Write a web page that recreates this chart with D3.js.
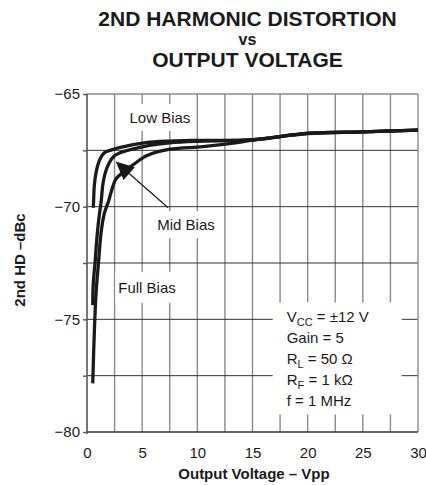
<!DOCTYPE html>
<html>
<head>
<meta charset="utf-8">
<script src="https://cdn.jsdelivr.net/npm/d3@7/dist/d3.min.js"></script>
<style>
  html, body { margin: 0; padding: 0; background: #fff; }
  svg { display: block; }
  text { font-family: "Liberation Sans", Arial, Helvetica, sans-serif; fill: #1a1a1a; }
</style>
</head>
<body>
<svg id="chart" width="426" height="485"></svg>
<script>
// Output voltage (Vpp) and 2nd harmonic distortion (dBc) for each bias setting
const lowBias = [
  [0.57, -70.05], [0.62, -69.5], [0.66, -69.08], [0.82, -68.49], [1.11, -67.97],
  [1.57, -67.61], [2.17, -67.49], [2.93, -67.38], [5.34, -67.16], [7.5, -67.09],
  [10, -67.06], [15, -67.03], [20, -66.74], [25, -66.68], [30, -66.6]
];
const midBias = [
  [0.52, -74.37], [0.57, -73.4], [0.75, -72.37], [0.88, -71.48], [1.06, -70.59],
  [1.3, -69.7], [1.42, -69.08], [1.66, -68.49], [2.02, -68.05], [2.47, -67.75],
  [3.23, -67.57], [5.34, -67.31], [7.5, -67.17], [10, -67.1], [15, -67.04],
  [20, -66.75], [25, -66.68], [30, -66.6]
];
const fullBias = [
  [0.52, -77.84], [0.66, -75.62], [0.82, -73.85], [1.06, -72.37], [1.27, -71.18],
  [1.57, -70.3], [1.99, -69.7], [2.17, -69.38], [2.63, -68.77], [3.23, -68.49],
  [4.44, -68.05], [5.34, -67.75], [7.5, -67.45], [10.5, -67.34], [13.6, -67.16],
  [15, -67.05], [20, -66.76], [25, -66.68], [30, -66.6]
];
const seriesLabels = ["Low Bias", "Mid Bias", "Full Bias"];

// Axis ticks and grid positions
const xTicks = [0, 5, 10, 15, 20, 25, 30];
const yTicks = [-80, -75, -70, -65];
const yMinorTicks = [-80, -77.5, -75, -72.5, -70, -67.5, -65];
const xGrid = [2.5, 5, 7.5, 10, 12.5, 15, 17.5, 20, 22.5, 25, 27.5];
const yGrid = [-77.5, -75, -72.5, -70, -67.5];

// Test conditions
const conditions = [
  ["V", "CC", " = \u00b112 V"],
  ["Gain = 5", "", ""],
  ["R", "L", " = 50 \u03a9"],
  ["R", "F", " = 1 k\u03a9"],
  ["f = 1 MHz", "", ""]
];

const svg = d3.select("#chart");
const plot = { left: 87, right: 418, top: 94, bottom: 432 };

const x = d3.scaleLinear().domain([0, 30]).range([plot.left, plot.right]);
const y = d3.scaleLinear().domain([-80, -65]).range([plot.bottom, plot.top]);

// Grid
const grid = svg.append("g");
grid.selectAll("line.v").data(xGrid).join("line")
  .attr("x1", d => x(d)).attr("x2", d => x(d))
  .attr("y1", plot.top).attr("y2", plot.bottom)
  .attr("stroke", "#8a8a8a").attr("stroke-width", 1.4);
grid.selectAll("line.h").data(yGrid).join("line")
  .attr("x1", plot.left).attr("x2", plot.right)
  .attr("y1", d => y(d)).attr("y2", d => y(d))
  .attr("stroke", "#333").attr("stroke-width", 1);

// Frame: top and right edges in grey
svg.append("line").attr("x1", plot.left).attr("x2", plot.right)
  .attr("y1", plot.top).attr("y2", plot.top)
  .attr("stroke", "#8a8a8a").attr("stroke-width", 1.4);
svg.append("line").attr("x1", plot.right).attr("x2", plot.right)
  .attr("y1", plot.top).attr("y2", plot.bottom)
  .attr("stroke", "#8a8a8a").attr("stroke-width", 1.4);

// Label boxes blank out the grid behind the text
const labelLayer = svg.append("g");
function boxedLabel(str, vx, vy, padX, padY) {
  const g = labelLayer.append("g");
  const rect = g.append("rect").attr("fill", "#fff");
  const t = g.append("text").attr("x", x(vx)).attr("y", y(vy))
    .attr("font-size", 15).text(str);
  const b = t.node().getBBox();
  rect.attr("x", b.x - padX).attr("y", b.y - padY)
    .attr("width", b.width + 2 * padX).attr("height", b.height + 2 * padY);
  return g;
}

// Curves
const line = d3.line()
  .x(d => x(d[0])).y(d => y(d[1]))
  .curve(d3.curveCatmullRom.alpha(0.5));
svg.append("g").selectAll("path")
  .data([lowBias, midBias, fullBias]).join("path")
  .attr("d", line)
  .attr("fill", "none")
  .attr("stroke", "#1a1a1a")
  .attr("stroke-width", 3.3)
  .attr("stroke-linejoin", "round");

boxedLabel(seriesLabels[0], 3.85, -66.28, 3, 5);
boxedLabel(seriesLabels[1], 6.37, -71.04, 3, 5);
boxedLabel(seriesLabels[2], 2.83, -73.82, 3, 7);

// Arrow from the Mid Bias label to its curve
const tip = [x(2.6), y(-68.0)];
const tail = [x(7.35), y(-70.05)];
const dx = tip[0] - tail[0], dy = tip[1] - tail[1];
const len = Math.hypot(dx, dy);
const ux = dx / len, uy = dy / len;
const headLen = 18, headHalf = 8.5;
const base = [tip[0] - headLen * ux, tip[1] - headLen * uy];
svg.append("line")
  .attr("x1", tail[0]).attr("y1", tail[1])
  .attr("x2", base[0]).attr("y2", base[1])
  .attr("stroke", "#1a1a1a").attr("stroke-width", 1.2);
svg.append("path")
  .attr("d", d3.line()([
    tip,
    [base[0] + headHalf * uy, base[1] - headHalf * ux],
    [base[0] - headHalf * uy, base[1] + headHalf * ux]
  ]) + "Z")
  .attr("fill", "#1a1a1a");

// Conditions block
const condX = x(18.1), condY0 = y(-75.14), condStep = 21;
const condG = svg.append("g");
condG.append("rect")
  .attr("x", condX - 14).attr("y", condY0 - 20)
  .attr("width", 129).attr("height", 112)
  .attr("fill", "#fff");
conditions.forEach((c, i) => {
  const t = condG.append("text")
    .attr("x", condX).attr("y", condY0 + i * condStep)
    .attr("font-size", 15);
  t.append("tspan").text(c[0]);
  if (c[1]) {
    t.append("tspan").attr("font-size", 11).attr("dy", 4).text(c[1]);
    t.append("tspan").attr("dy", -4).text(c[2]);
  }
});

// Axes
svg.append("line").attr("x1", plot.left).attr("x2", plot.right)
  .attr("y1", plot.bottom).attr("y2", plot.bottom)
  .attr("stroke", "#333").attr("stroke-width", 1.4);
svg.append("line").attr("x1", plot.left).attr("x2", plot.left)
  .attr("y1", plot.top).attr("y2", plot.bottom + 2)
  .attr("stroke", "#555").attr("stroke-width", 1.6);

const yMinorAxis = d3.axisLeft(y).tickValues(yMinorTicks).tickSize(4).tickFormat("");
svg.append("g").attr("transform", `translate(${plot.left},0)`).call(yMinorAxis)
  .call(g => g.select(".domain").remove())
  .call(g => g.selectAll(".tick line").attr("stroke", "#555").attr("stroke-width", 1.4));

const yAxis = d3.axisLeft(y).tickValues(yTicks).tickSize(0).tickPadding(7)
  .tickFormat(d3.format("d"));
svg.append("g").attr("transform", `translate(${plot.left},0)`).call(yAxis)
  .call(g => g.select(".domain").remove())
  .call(g => g.selectAll("text").attr("font-size", 15)
    .attr("font-family", "Liberation Sans, Arial, sans-serif").attr("fill", "#1a1a1a"));

const xAxis = d3.axisBottom(x).tickValues(xTicks).tickSize(0).tickPadding(15)
  .tickFormat(d3.format("d"));
svg.append("g").attr("transform", `translate(0,${plot.bottom})`).call(xAxis)
  .call(g => g.select(".domain").remove())
  .call(g => g.selectAll("text").attr("font-size", 15)
    .attr("font-family", "Liberation Sans, Arial, sans-serif").attr("fill", "#1a1a1a"));

// Axis titles
svg.append("text")
  .attr("x", 254).attr("y", 479)
  .attr("text-anchor", "middle").attr("font-size", 15).attr("font-weight", "bold")
  .text("Output Voltage \u2013 Vpp");
svg.append("text")
  .attr("transform", "translate(25,260) rotate(-90)")
  .attr("text-anchor", "middle").attr("font-size", 15).attr("font-weight", "bold")
  .text("2nd HD \u2013dBc");

// Title
const title = svg.append("g").attr("font-weight", "bold").attr("text-anchor", "middle");
title.append("text").attr("x", 247.5).attr("y", 26).attr("font-size", 21)
  .text("2ND HARMONIC DISTORTION");
title.append("text").attr("x", 247.5).attr("y", 45).attr("font-size", 16)
  .text("vs");
title.append("text").attr("x", 247.5).attr("y", 67).attr("font-size", 21)
  .text("OUTPUT VOLTAGE");
</script>
</body>
</html>
